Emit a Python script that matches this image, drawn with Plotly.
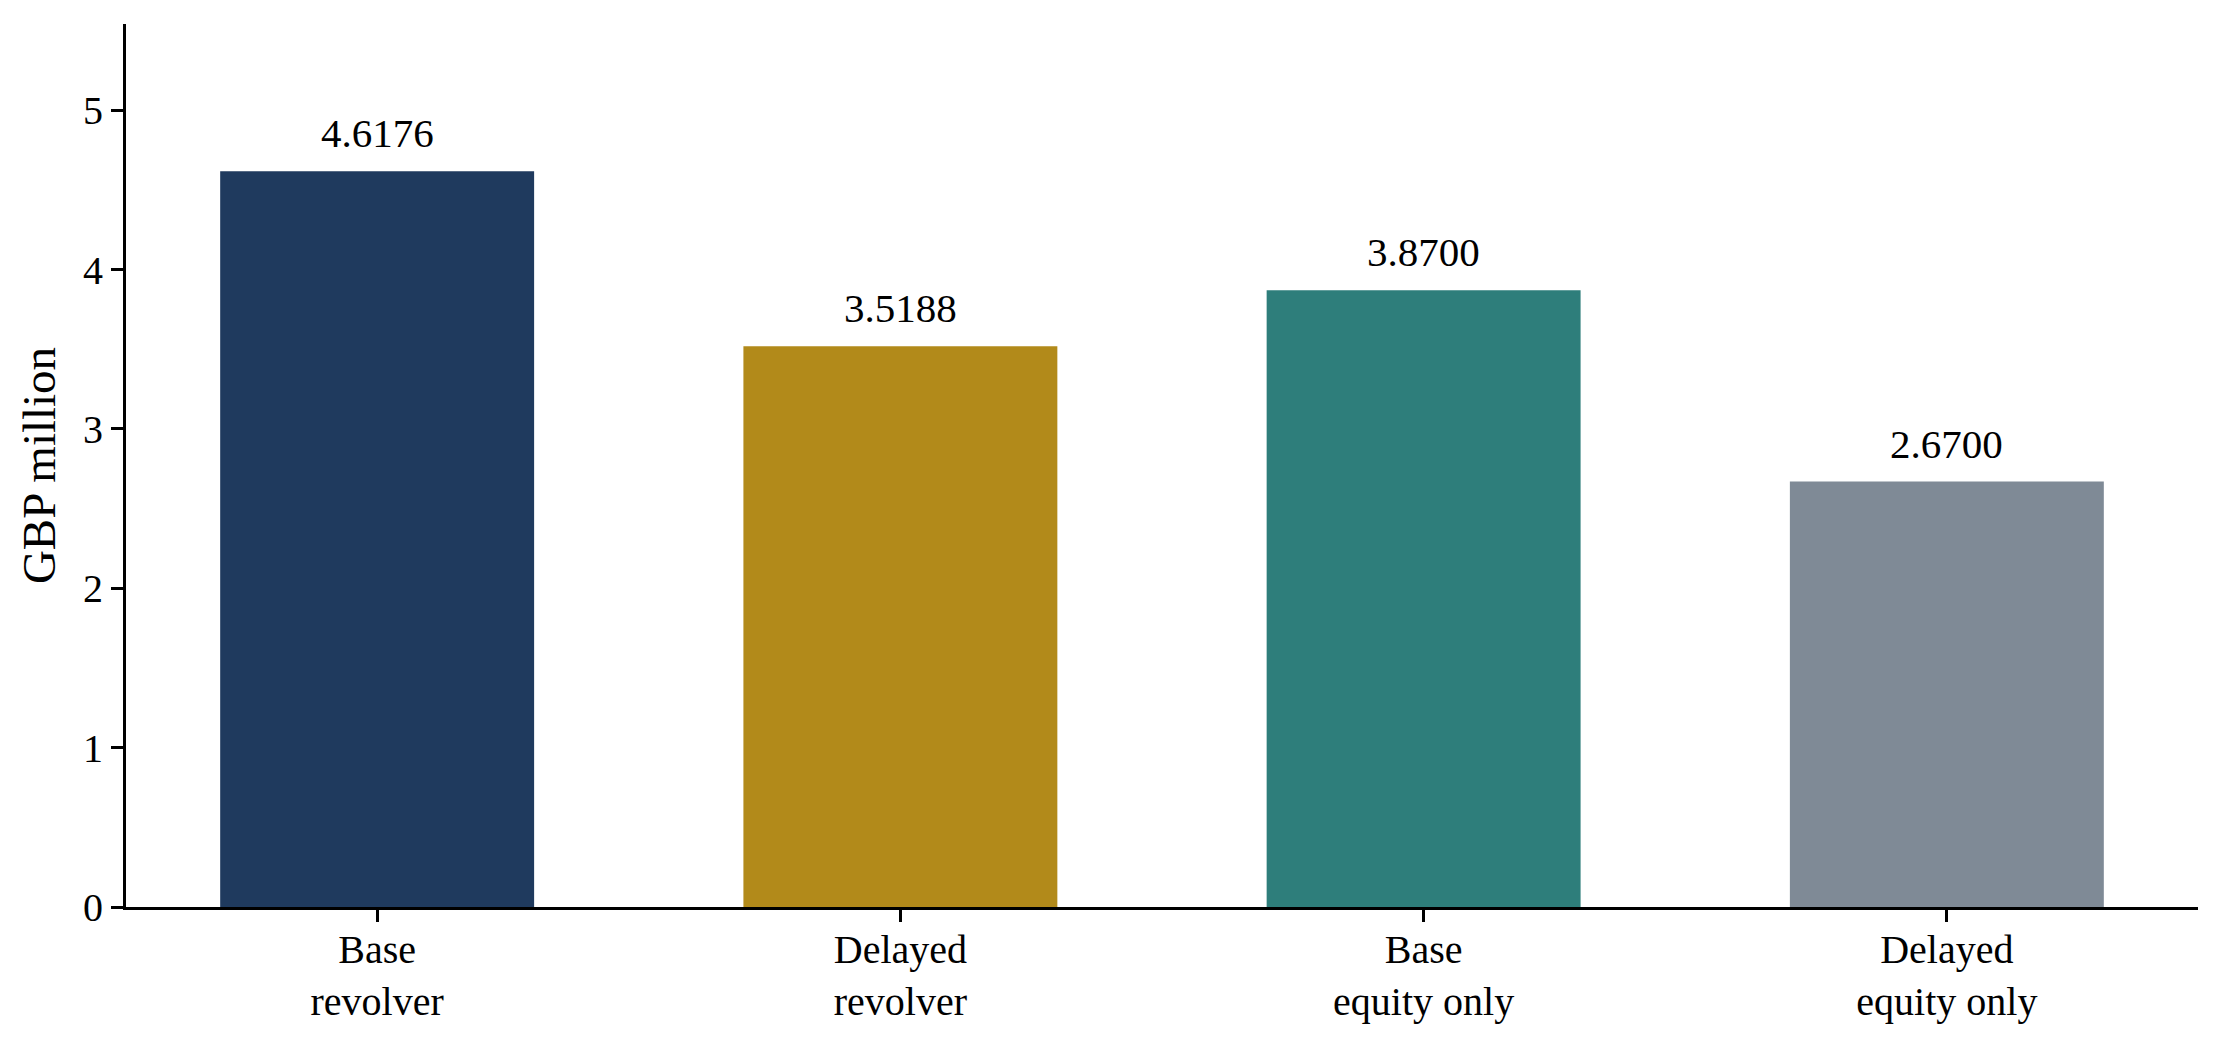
import plotly.graph_objects as go

# scenario values (GBP million)
scenarios = ["Base<br>revolver", "Delayed<br>revolver", "Base<br>equity only", "Delayed<br>equity only"]
values = [4.6176, 3.5188, 3.8700, 2.6700]
colors = ["#1f3a5e", "#b28a1a", "#2e7e7b", "#7f8a96"]
y_ticks = [0, 1, 2, 3, 4, 5]

FONT = "Liberation Serif, Times New Roman, serif"

fig = go.Figure()
fig.add_trace(go.Bar(x=scenarios, y=values, marker=dict(color=colors, line=dict(width=0)),
                     width=0.6, showlegend=False, hoverinfo="skip"))

# value labels above each bar
for s, v in zip(scenarios, values):
    fig.add_annotation(x=s, y=v, text=f"{v:.4f}", showarrow=False, yanchor="bottom",
                       yshift=14, borderpad=0, font=dict(family=FONT, size=41, color="black"))

# page body has an 8px margin, so the figure is a bit smaller than the window
fig.update_layout(
    width=2207, height=1030,
    margin=dict(l=118, r=17, t=16, b=131, autoexpand=False),
    paper_bgcolor="white", plot_bgcolor="white",
    font=dict(family=FONT, size=40, color="black"),
    bargap=0.4,
)
fig.update_xaxes(range=[-0.48, 3.48], showline=True, linecolor="black", linewidth=3,
                 ticks="outside", ticklen=12, tickwidth=2.5, tickcolor="black", automargin=False,
                 ticklabelstandoff=-7,
                 showgrid=False, zeroline=False, tickfont=dict(family=FONT, size=40))
fig.update_yaxes(range=[0, max(values) * 1.2], tickvals=y_ticks, showline=True, linecolor="black",
                 linewidth=3, ticks="outside", ticklen=12, tickwidth=2.5, tickcolor="black",
                 showgrid=False, zeroline=False, tickfont=dict(family=FONT, size=40), automargin=False,
                 title=dict(text="GBP million", font=dict(family=FONT, size=47), standoff=13))

fig.write_html("out.html")
